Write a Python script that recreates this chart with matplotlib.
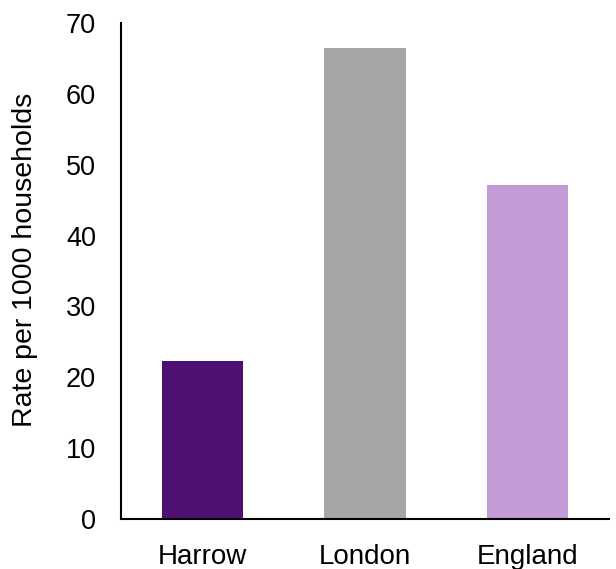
import matplotlib
matplotlib.use("Agg")
import matplotlib.pyplot as plt

categories = ["Harrow", "London", "England"]
values = [22.3, 66.5, 47.1]
colors = ["#4F1074", "#A6A6A6", "#C39BD6"]

plt.rcParams['font.family'] = ['Liberation Sans', 'DejaVu Sans']

W, H = 616, 569
fig = plt.figure(figsize=(W/100, H/100), dpi=100)
ax = fig.add_axes([121/W, 1-519/H, (609-121)/W, (519-23)/H])

x = list(range(len(categories)))
ax.bar(x, values, width=0.5, color=colors)
ax.set_xlim(-0.5, 2.5)
ax.set_ylim(0, 70)
ax.set_yticks(range(0, 71, 10))
ax.set_xticks(x)
ax.set_xticklabels(categories)
ax.tick_params(axis='y', length=0, pad=18, labelsize=19.5)
ax.tick_params(axis='x', length=0, pad=18, labelsize=20)
fig.text(25/W, 1-260/H, "Rate per 1000 households", fontsize=20.5,
         rotation=90, ha='center', va='center')
for s in ['top', 'right']:
    ax.spines[s].set_visible(False)
for s in ['left', 'bottom']:
    ax.spines[s].set_linewidth(1.5)
    ax.spines[s].set_color('black')

fig.savefig("out.png", dpi=100)
